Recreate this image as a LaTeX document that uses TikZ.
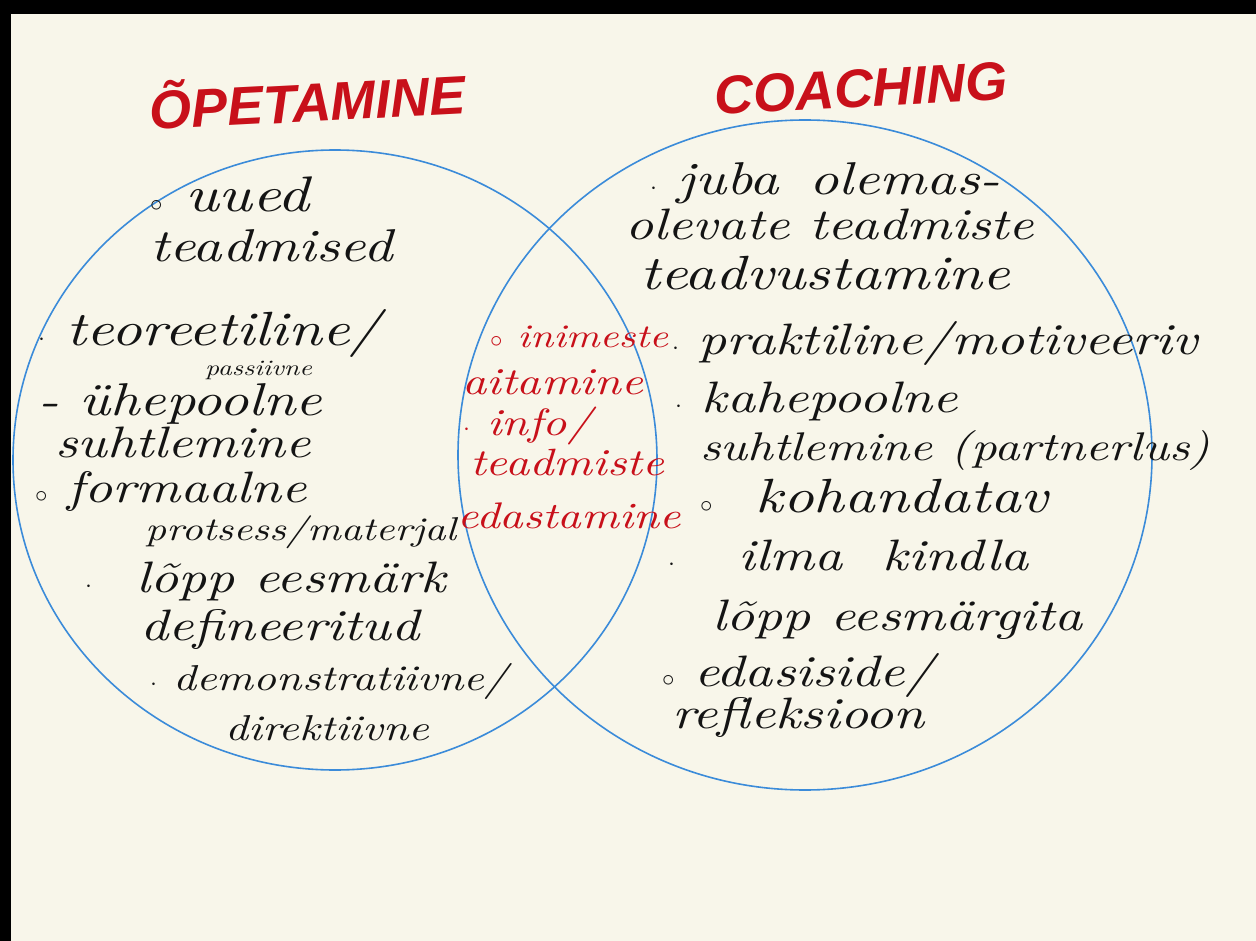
\documentclass[tikz,border=0pt]{standalone}
\usepackage{fontspec}
\newfontfamily\titlefont{Liberation Sans}
\newfontfamily\handfont[FakeStretch=1.25]{lmroman10-italic.otf}
\usetikzlibrary{%
	shapes%
}
\definecolor{paper}{HTML}{F8F6EA}
\definecolor{ink}{HTML}{141414}
\definecolor{redink}{HTML}{C8101A}
\definecolor{vennblue}{HTML}{3B8BD9}
\newcommand{\fs}[1]{\handfont\fontsize{#1}{#1}\selectfont}
\tikzset{
	hand/.style={anchor=base west, inner sep=0pt, text=ink, font=\fs{44}},
	handsmall/.style={hand, font=\fs{22}},
	redhand/.style={hand, text=redink, font=\fs{38}},
	settitle/.style={anchor=base west, inner sep=0pt, text=redink, font=\titlefont\fontsize{54}{60}\selectfont\bfseries\itshape, rotate=3},
	venn/.style={ellipse, draw=vennblue, line width=1.6pt, inner sep=0pt}
}

\begin{document}
\begin{tikzpicture}[x=1pt, y=-1pt]
		\useasboundingbox (0,0) rectangle (1256,941);
		\fill[black] (0,0) rectangle (1256,941);
		\fill[paper] (11,14) rectangle (1256,941);

		% Sets
		\node[venn, minimum width=644pt, minimum height=620pt] (opet) at (335,460) {};
		\node[venn, minimum width=694pt, minimum height=670pt] (coach) at (805,455) {};

		% Titles
		\node[settitle] (topet) at (150,130) {ÕPETAMINE};
		\node[settitle] (tcoach) at (715,115) {COACHING};

		% Left set
		\node[hand, font=\fs{50}] (l1) at (150,212) {$\circ$ uued};
		\node[hand, font=\fs{46}] (l2) at (150,262) {teadmised};
		\node[hand, font=\fs{48}] (l3) at (38,346) {$\cdot$ teoreetiline/};
		\node[handsmall] (l4) at (205,375) {passiivne};
		\node[hand, font=\fs{46}] (l5) at (38,415) {- ühepoolne};
		\node[hand] (l6) at (55,457) {suhtlemine};
		\node[hand] (l7) at (35,502) {$\circ$ formaalne};
		\node[hand, font=\fs{33}] (l8) at (145,540) {protsess/materjal};
		\node[hand] (l9) at (85,592) {$\cdot$\quad lõpp eesmärk};
		\node[hand] (l10) at (140,640) {defineeritud};
		\node[hand, font=\fs{36}] (l11) at (150,690) {$\cdot$ demonstratiivne/};
		\node[hand, font=\fs{36}] (l12) at (225,740) {direktiivne};

		% Both sets
		\node[redhand, font=\fs{33}] (m1) at (490,348) {$\circ$ inimeste};
		\node[redhand] (m2) at (462,394) {aitamine};
		\node[redhand] (m3) at (463,435) {$\cdot$ info/};
		\node[redhand] (m4) at (470,475) {teadmiste};
		\node[redhand, font=\fs{37}] (m5) at (457,528) {edastamine};

		% Right set
		\node[hand, font=\fs{46}] (r1) at (650,195) {$\cdot$ juba\hspace{30pt}olemas-};
		\node[hand] (r2) at (625,240) {olevate teadmiste};
		\node[hand, font=\fs{48}] (r3) at (640,290) {teadvustamine};
		\node[hand] (r4) at (672,355) {$\cdot$\ praktiline/motiveeriv};
		\node[hand] (r5) at (675,412) {$\cdot$\ kahepoolne};
		\node[hand, font=\fs{40}] (r6) at (700,460) {suhtlemine (partnerlus)};
		\node[hand, font=\fs{48}] (r7) at (700,512) {$\circ$\ \ kohandatav};
		\node[hand] (r8) at (668,570) {$\cdot$\quad\ ilma\hspace{40pt}kindla};
		\node[hand] (r9) at (712,630) {lõpp eesmärgita};
		\node[hand] (r10) at (662,686) {$\circ$ edasiside/};
		\node[hand] (r11) at (672,728) {refleksioon};
\end{tikzpicture}
\end{document}
